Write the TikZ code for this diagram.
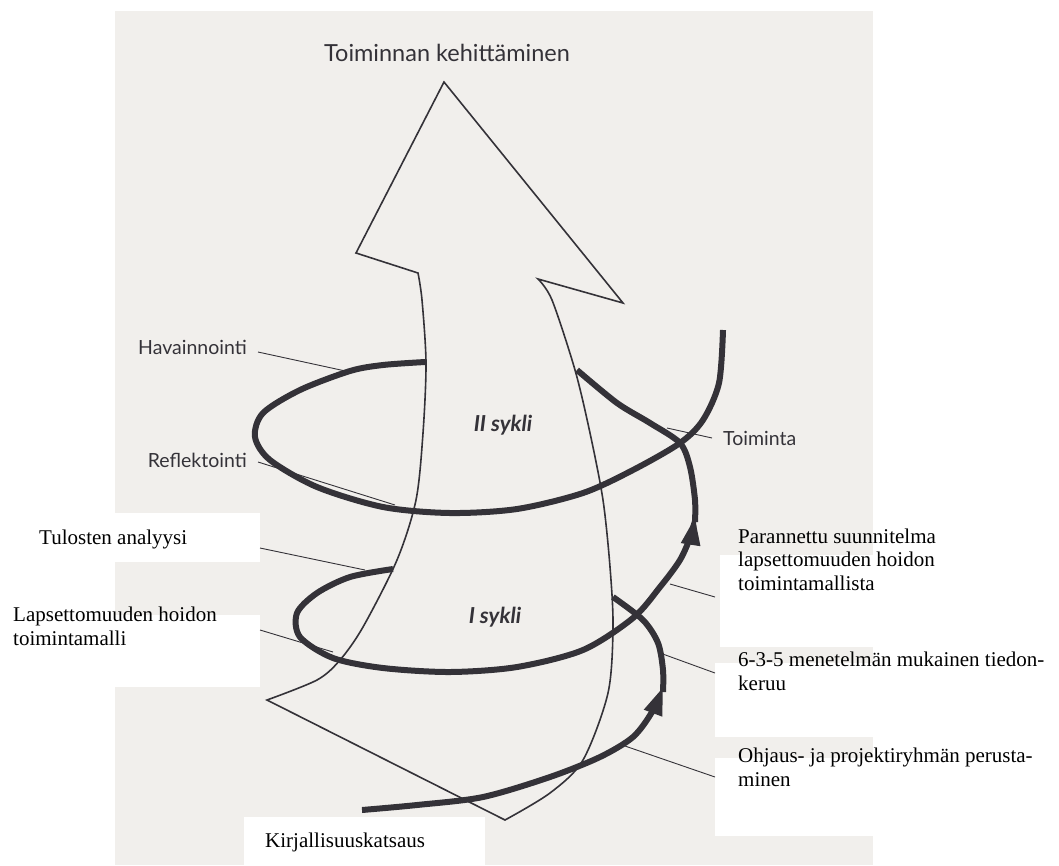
\documentclass[tikz,border=0pt]{standalone}
\usepackage{fontspec}
\setmainfont{Liberation Serif}
\newfontfamily\gillish{Lato}
\usetikzlibrary{arrows.meta}
\definecolor{paper}{HTML}{F1EFEC}
\definecolor{ink}{RGB}{52,50,56}

\begin{document}
\begin{tikzpicture}[x=1pt,y=-1pt,
  outline/.style={draw=ink, line width=1.6pt, line join=miter},
  spiral/.style={draw=ink, line width=6pt},
  spiraltip/.style={-{Triangle[length=28pt,width=18pt]}},
  leader/.style={draw=ink, line width=0.9pt},
  sanslab/.style={font=\gillish\fontsize{19.5}{23}\selectfont, text=ink, inner sep=0pt},
  cyclelab/.style={font=\gillish\bfseries\itshape\fontsize{22}{26}\selectfont, text=ink, inner sep=0pt},
  titlelab/.style={font=\gillish\fontsize{23.5}{28}\selectfont, text=ink, inner sep=0pt},
  serlab/.style={font=\fontsize{21}{23.5}\selectfont, text=black, inner sep=0pt, align=left},
  panel/.style={fill=white, draw=none}]
\useasboundingbox (0,0) rectangle (1059,865);
\fill[white] (0,0) rectangle (1059,865);

% printed page
\fill[paper] (115,11) rectangle (873,865);

% white panels behind the typed labels
\fill[panel] (115,513) rectangle (260,562);
\fill[panel] (115,615) rectangle (260,687);
\fill[panel] (720,555) rectangle (873,647);
\fill[panel] (715,663) rectangle (873,737);
\fill[panel] (715,758) rectangle (873,836);
\fill[panel] (244,817) rectangle (485,865);

% the big development arrow
\draw[outline] (444,82) -- (623,303) -- (538,279)
  -- plot[smooth] coordinates {(538,279) (552,300) (575,370) (590,433) (603,500)
       (610,567) (613,627) (608,693) (583,760) (550,793) (505,820)}
  -- (267,700)
  -- plot[smooth] coordinates {(267,700) (317,680) (340,660) (363,627) (397,560)
       (416,500) (423,433) (426,363) (422,300) (418,273)}
  -- (356,253) -- cycle;

% first cycle: from the start up to the shaft
\draw[spiral, spiraltip] plot[smooth] coordinates {(362,810) (417,805) (483,797)
  (550,777) (600,757) (633,737) (652,712) (663,687)};
\draw[spiral] plot[smooth] coordinates {(663,692) (663,670) (658,643) (643,620) (613,597)};

% first loop (I sykli)
\draw[spiral, spiraltip] plot[smooth] coordinates {(393,569) (350,577) (317,593)
  (297,613) (300,637) (333,658) (383,668) (450,672) (517,667) (583,650) (633,618)
  (660,587) (680,560) (691,535) (695,517)};
\draw[spiral] plot[smooth] coordinates {(695,522) (695,500) (690,467) (680,443)
  (650,423) (617,403) (577,370)};

% second loop (II sykli)
\draw[spiral] plot[smooth] coordinates {(425,362) (383,365) (350,371) (300,390)
  (263,413) (255,437) (270,460) (317,487) (383,507) (450,513) (517,509) (583,493)
  (633,470) (680,443) (703,420) (719,383) (723,330)};

% labels
\node[titlelab, anchor=base] (title) at (447,61) {Toiminnan kehittäminen};
\node[sanslab, anchor=base east] (hav) at (247,354) {Havainnointi};
\node[sanslab, anchor=base east] (ref) at (247,467) {Reflektointi};
\node[sanslab, anchor=base west] (toi) at (723,445) {Toiminta};
\node[cyclelab, anchor=base] (c2) at (503,431) {II sykli};
\node[cyclelab, anchor=base] (c1) at (495,623) {I sykli};

\node[serlab, anchor=base west] (tul) at (39,544) {Tulosten analyysi};
\node[serlab, anchor=base west] (lap) at (13,645) {Lapsettomuuden hoidon\\toimintamalli};
\node[serlab, anchor=base west] (par) at (738,590) {Parannettu suunnitelma\\lapsettomuuden hoidon\\toimintamallista};
\node[serlab, anchor=base west] (men) at (738,690) {6-3-5 menetelmän mukainen tiedon-\\keruu};
\node[serlab, anchor=base west] (ohj) at (738,786) {Ohjaus- ja projektiryhmän perusta-\\minen};
\node[serlab, anchor=base west] (kir) at (265,847) {Kirjallisuuskatsaus};

% leader lines
\coordinate (havA) at (258,352);  \coordinate (havB) at (350,372);
\coordinate (refA) at (258,462);  \coordinate (refB) at (395,505);
\coordinate (tulA) at (260,548);  \coordinate (tulB) at (365,570);
\coordinate (lapA) at (260,630);  \coordinate (lapB) at (333,652);
\coordinate (toiA) at (667,428);  \coordinate (toiB) at (712,438);
\coordinate (parA) at (670,584);  \coordinate (parB) at (715,597);
\coordinate (menA) at (660,653);  \coordinate (menB) at (715,673);
\coordinate (ohjA) at (625,746);  \coordinate (ohjB) at (715,777);
\draw[leader] (havA) -- (havB);
\draw[leader] (refA) -- (refB);
\draw[leader] (tulA) -- (tulB);
\draw[leader] (lapA) -- (lapB);
\draw[leader] (toiA) -- (toiB);
\draw[leader] (parA) -- (parB);
\draw[leader] (menA) -- (menB);
\draw[leader] (ohjA) -- (ohjB);
\end{tikzpicture}
\end{document}
